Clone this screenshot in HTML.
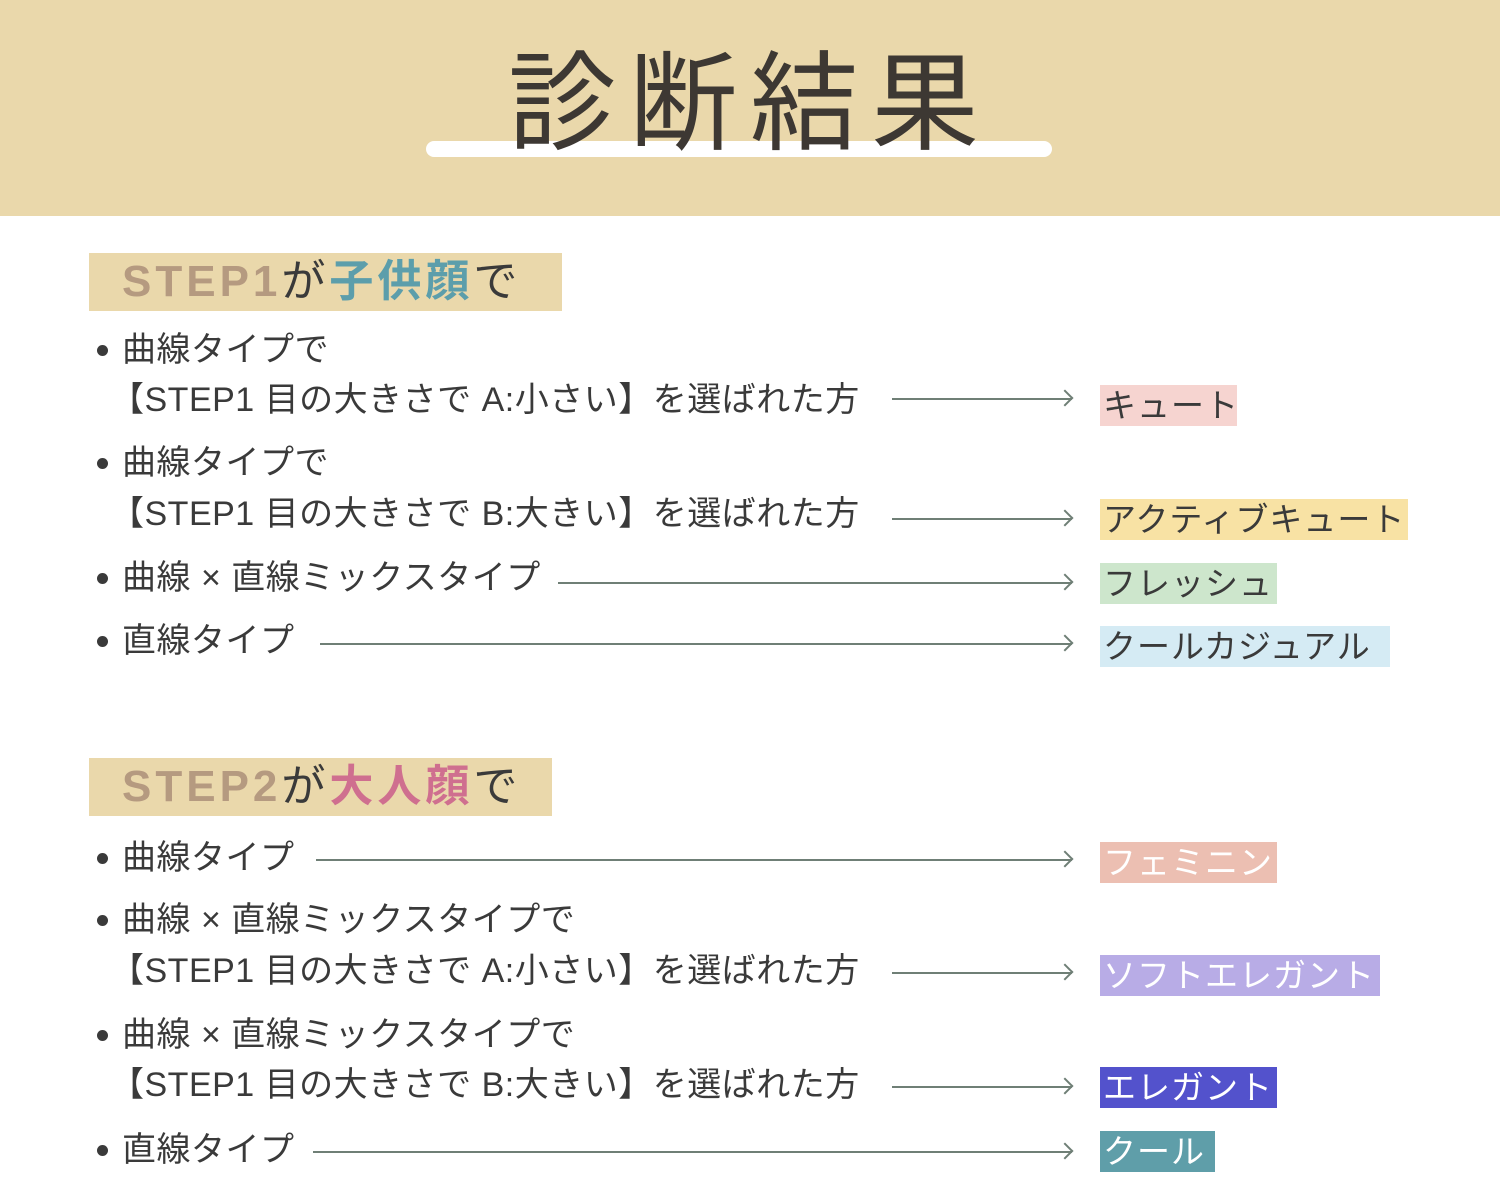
<!DOCTYPE html>
<html><head><meta charset="utf-8"><style>
body{margin:0;width:1500px;height:1200px;background:#fff;position:relative;overflow:hidden;font-family:"Liberation Sans","Noto Sans CJK JP",sans-serif;color:#333}
.a{position:absolute;white-space:nowrap}
.t{font-size:34px;line-height:34px;color:#3a3a3a;letter-spacing:0.5px}
.b{position:absolute;left:97px;width:11px;height:11px;border-radius:50%;background:#3a3a3a}
.lb{position:absolute;left:1100px;height:41px;font-size:33px;line-height:41px;letter-spacing:1px;color:#3a3a3a;white-space:nowrap;padding-left:3px;box-sizing:border-box;overflow:hidden}
.ar{position:absolute;height:2px;background:#6f7f76}
.ar:after{content:"";position:absolute;right:0;top:-6px;width:10px;height:10px;border-top:2px solid #6f7f76;border-right:2px solid #6f7f76;transform:rotate(45deg);transform-origin:center;right:1px}
.hd{position:absolute;left:89px;background:#ead8ab;font-size:44px;line-height:58px;height:58px;padding-left:33px;box-sizing:border-box;font-weight:bold;white-space:nowrap;letter-spacing:4px}
</style></head><body>
<div class="a" style="left:0;top:0;width:1500px;height:216px;background:#ead8ab"></div>
<div class="a" style="left:426px;top:141px;width:626px;height:16px;background:#fff;border-radius:8px"></div>
<div class="a" style="left:508px;top:46px;font-size:108px;line-height:116px;letter-spacing:13px;color:#3d3833">診断結果</div>

<div class="hd" style="top:253px;width:473px"><span style="color:#b59a80">STEP1</span><span style="color:#3a3a3a;font-weight:normal">が</span><span style="color:#5c9eab">子供顔</span><span style="color:#3a3a3a;font-weight:normal">で</span></div>
<div class="hd" style="top:758px;width:463px"><span style="color:#b59a80">STEP2</span><span style="color:#3a3a3a;font-weight:normal">が</span><span style="color:#cf6f8f">大人顔</span><span style="color:#3a3a3a;font-weight:normal">で</span></div>

<div class="b" style="top:345px"></div>
<div class="a t" style="left:122px;top:333px">曲線タイプで</div>
<div class="a t" style="left:110px;top:383px">【STEP1 目の大きさで A:小さい】を選ばれた方</div>
<div class="ar" style="left:892px;top:398px;width:180px"></div>
<div class="lb" style="top:385px;width:137px;background:#f6d4d0">キュート</div>

<div class="b" style="top:458px"></div>
<div class="a t" style="left:122px;top:446px">曲線タイプで</div>
<div class="a t" style="left:110px;top:497px">【STEP1 目の大きさで B:大きい】を選ばれた方</div>
<div class="ar" style="left:892px;top:518px;width:180px"></div>
<div class="lb" style="top:499px;width:308px;background:#f8e2a4">アクティブキュート</div>

<div class="b" style="top:573px"></div>
<div class="a t" style="left:122px;top:561px">曲線 × 直線ミックスタイプ</div>
<div class="ar" style="left:558px;top:582px;width:514px"></div>
<div class="lb" style="top:563px;width:177px;background:#cde6cc">フレッシュ</div>

<div class="b" style="top:636px"></div>
<div class="a t" style="left:122px;top:624px">直線タイプ</div>
<div class="ar" style="left:320px;top:643px;width:752px"></div>
<div class="lb" style="top:626px;width:290px;background:#d5ebf4">クールカジュアル</div>

<div class="b" style="top:853px"></div>
<div class="a t" style="left:122px;top:841px">曲線タイプ</div>
<div class="ar" style="left:316px;top:859px;width:756px"></div>
<div class="lb" style="top:842px;width:177px;background:#ecbfb2;color:#fff">フェミニン</div>

<div class="b" style="top:915px"></div>
<div class="a t" style="left:122px;top:903px">曲線 × 直線ミックスタイプで</div>
<div class="a t" style="left:110px;top:954px">【STEP1 目の大きさで A:小さい】を選ばれた方</div>
<div class="ar" style="left:892px;top:972px;width:180px"></div>
<div class="lb" style="top:955px;width:280px;background:#b8ace6;color:#fff">ソフトエレガント</div>

<div class="b" style="top:1030px"></div>
<div class="a t" style="left:122px;top:1018px">曲線 × 直線ミックスタイプで</div>
<div class="a t" style="left:110px;top:1068px">【STEP1 目の大きさで B:大きい】を選ばれた方</div>
<div class="ar" style="left:892px;top:1086px;width:180px"></div>
<div class="lb" style="top:1067px;width:177px;background:#5352cc;color:#fff">エレガント</div>

<div class="b" style="top:1145px"></div>
<div class="a t" style="left:122px;top:1133px">直線タイプ</div>
<div class="ar" style="left:313px;top:1151px;width:759px"></div>
<div class="lb" style="top:1131px;width:115px;background:#5f9ea9;color:#fff">クール</div>
</body></html>
